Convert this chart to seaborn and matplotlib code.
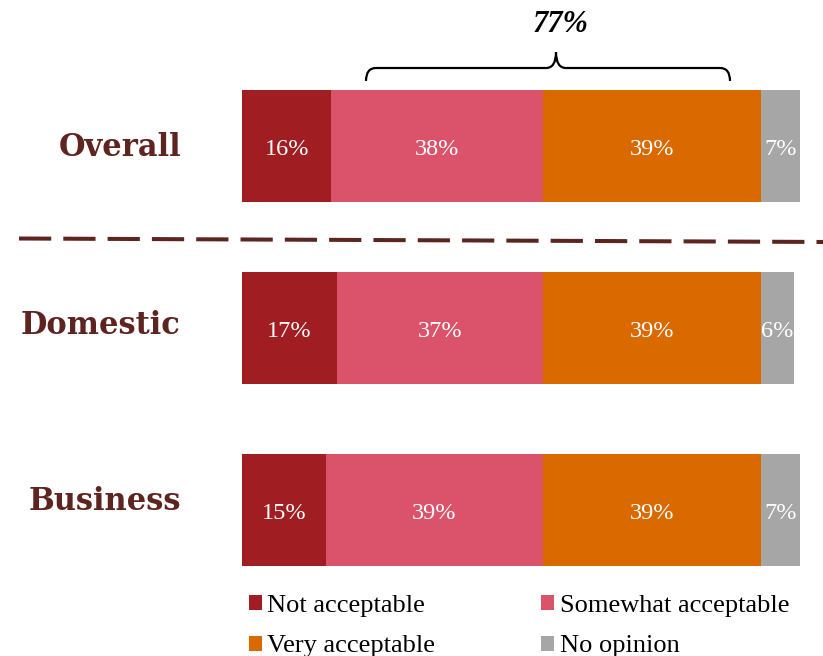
import matplotlib
matplotlib.use("Agg")
import matplotlib.pyplot as plt
import matplotlib.transforms as mtransforms
import seaborn as sns
import numpy as np
import pandas as pd
from matplotlib.path import Path
from matplotlib.patches import PathPatch, Patch

# Survey results (percent of respondents)
groups = ["Overall", "Domestic", "Business"]
responses = ["Not acceptable", "Somewhat acceptable", "Very acceptable", "No opinion"]
not_acceptable = [16, 17, 15]
somewhat_acceptable = [38, 37, 39]
very_acceptable = [39, 39, 39]
no_opinion = [7, 6, 7]
acceptable_label = "77%"

colors = ["#a01e22", "#db536a", "#da6900", "#a6a6a6"]
label_color = "#5e2420"

sns.set_theme(style="white")
plt.rcParams["font.family"] = ["Liberation Serif", "DejaVu Serif"]

W, H = 823, 656
fig = plt.figure(figsize=(W / 100, H / 100), dpi=100)
ax = fig.add_axes([242 / W, 1 - 601 / H, 558 / W, 546 / H])

values = np.array([not_acceptable, somewhat_acceptable, very_acceptable, no_opinion])
cumulative = values.cumsum(axis=0)

# Stacked bars: draw cumulative totals from the outermost layer inwards
for i in reversed(range(len(responses))):
    df = pd.DataFrame({"group": groups, "value": cumulative[i]})
    sns.barplot(data=df, x="value", y="group", orient="h", color=colors[i],
                saturation=1, width=0.62, errorbar=None, linewidth=0, ax=ax)

# Percent labels inside each segment
for j in range(len(groups)):
    for i in range(len(responses)):
        center = cumulative[i, j] - values[i, j] / 2
        ax.text(center, j + 0.02, f"{values[i, j]}%", ha="center", va="center",
                color="white", fontsize=17.5, family=["Liberation Serif"])

ax.set_xlim(0, 100)
ax.set_ylim(2.5, -0.5)
ax.set_xlabel("")
ax.set_ylabel("")
ax.set_xticks([])
ax.set_yticks([])
sns.despine(ax=ax, left=True, bottom=True)

# Group names to the left of the bars, nudged slightly upwards (points)
name_nudge = [-1, 2, 6]
for j, name in enumerate(groups):
    trans = mtransforms.offset_copy(ax.transData, fig=fig, x=-44, y=name_nudge[j],
                                    units="points")
    ax.text(0, j, name, transform=trans, ha="right", va="center",
            family=["DejaVu Serif"], fontweight="bold", fontsize=22,
            color=label_color, clip_on=False)

# Dashed separator between the overall row and the breakdown
def px_to_data(px, py):
    return (px - 242) / 5.58, (py - 146) / 182.0

x0, y0 = px_to_data(19, 238.5)
x1, y1 = px_to_data(830, 242)
ax.plot([x0, x1], [y0, y1], color=label_color, lw=2.9, ls=(0, (8, 3)),
        solid_capstyle="butt", dash_capstyle="butt", clip_on=False)

# Curly brace over the acceptable segments
pts = [(366, 81), (366, 68), (376, 68), (546, 68), (556, 68), (556, 52),
       (556, 68), (566, 68), (720, 68), (730, 68), (730, 81)]
data_pts = [px_to_data(px, py) for px, py in pts]
codes = [Path.MOVETO, Path.CURVE3, Path.CURVE3, Path.LINETO, Path.CURVE3, Path.CURVE3,
         Path.CURVE3, Path.CURVE3, Path.LINETO, Path.CURVE3, Path.CURVE3]
brace = PathPatch(Path(data_pts, codes), facecolor="none", edgecolor="black",
                  lw=1.6, clip_on=False)
ax.add_patch(brace)
tx, ty = px_to_data(561, 24)
ax.text(tx, ty, acceptable_label, ha="center", va="center", fontsize=22,
        fontweight="bold", fontstyle="italic", color="black", clip_on=False)

# Legend in two columns beneath the bars
handles = [Patch(facecolor=c, edgecolor="none") for c in colors]
order = [0, 2, 1, 3]
leg = fig.legend([handles[k] for k in order], [responses[k] for k in order],
                 ncol=2, loc="upper left", bbox_to_anchor=(249 / W, 1 - 595 / H),
                 frameon=False, fontsize=19, handlelength=0.5, handleheight=0.5,
                 handletextpad=0.2, columnspacing=4.0, labelspacing=0.7,
                 borderpad=0, borderaxespad=0)
for t in leg.get_texts():
    t.set_color("black")

fig.savefig("out.png", dpi=100)
